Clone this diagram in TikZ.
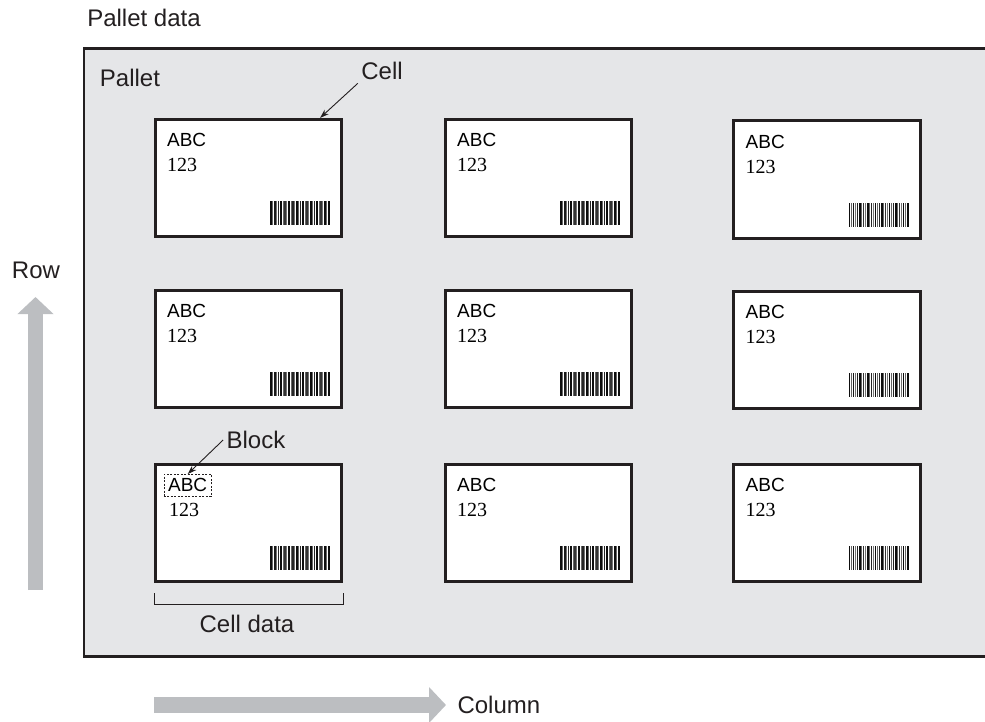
\documentclass[tikz,border=0pt]{standalone}
\usepackage{fontspec}
\setmainfont{Liberation Sans}
\newfontfamily\numfont{Liberation Serif}
\usetikzlibrary{arrows.meta,fit}
\definecolor{palletgray}{RGB}{229,230,232}
\definecolor{flowgray}{RGB}{188,190,193}
\definecolor{edge}{RGB}{35,31,32}

\begin{document}
\begin{tikzpicture}[x=1pt,y=-1pt,
	cell/.style={draw=edge, line width=2.6pt, fill=white, minimum width=186.5pt, minimum height=117.5pt, inner sep=0pt},
	abc/.style={font=\fontsize{19}{22}\selectfont, text=black, inner sep=0pt, anchor=base west},
	num/.style={font=\numfont\fontsize{20}{23}\selectfont, text=black, inner sep=0pt, anchor=base west},
	lbl/.style={font=\fontsize{24}{28}\selectfont, text=edge},
	pointer/.style={draw=edge, line width=0.9pt, -{Stealth[length=9pt,width=6pt]}},
	flow/.style={draw=flowgray, line width=15.5pt, -{Triangle[length=17pt,width=35pt]}},
	blockbox/.style={draw=edge, line width=0.8pt, dash pattern=on 2pt off 1.5pt, inner sep=4pt},
	barcode/.pic={
		\foreach \bx/\bw/\bc in {0/1.8/black!95, 2.4/1/black!60, 4/1.8/black!90, 6.4/1/black!55,
			8/1.4/black!85, 10/2.2/black!95, 12.8/1/black!60, 14.4/1.4/black!80, 16.4/1/black!55,
			18/2.2/black!95, 20.8/1/black!60, 22.4/1.4/black!85, 24.4/1/black!55, 26/1.8/black!95,
			28.4/1/black!60, 30/1.4/black!85, 32/2.2/black!95, 34.8/1/black!60, 36.4/1.4/black!80,
			38.4/1/black!55, 40/1.8/black!95, 42.4/1/black!60, 44/1.4/black!85, 46/2.2/black!95,
			48.8/1/black!60, 50.4/1.4/black!80, 52.4/1/black!55, 54/1.8/black!95, 56.4/1/black!60,
			58/2/black!95}
			{\fill[\bc] (\bx,0) rectangle ({\bx+\bw},24);}
	}]
	\useasboundingbox (0,0) rectangle (985,722);
	\clip (0,0) rectangle (985,722);

	% Pallet frame
	\draw[draw=edge, fill=palletgray, line width=2.6pt] (84,48.7) rectangle (995,656.5);

	% Labels
	\node[lbl] (palletdata) at (144,18) {Pallet data};
	\node[lbl] (palletlbl) at (130,78) {Pallet};
	\node[lbl] (celllbl) at (382,71) {Cell};
	\node[lbl] (blocklbl) at (256,440) {Block};
	\node[lbl] (rowlbl) at (36,270) {Row};
	\node[lbl, anchor=west] (collbl) at (454,705) {Column};

	% Row 1
	\node[cell] (c11) at (248.5,178) {};
	\node[abc] (a11) at ([shift={(13,29)}]c11.north west) {ABC};
	\node[num] (n11) at ([shift={(13,54)}]c11.north west) {123};
	\pic at ([shift={(-73,-37)}]c11.south east) {barcode};
	\node[cell] (c12) at (538.5,178) {};
	\node[abc] (a12) at ([shift={(13,29)}]c12.north west) {ABC};
	\node[num] (n12) at ([shift={(13,54)}]c12.north west) {123};
	\pic at ([shift={(-73,-37)}]c12.south east) {barcode};
	\node[cell] (c13) at (827,179.5) {};
	\node[abc] (a13) at ([shift={(13,29)}]c13.north west) {ABC};
	\node[num] (n13) at ([shift={(13,54)}]c13.north west) {123};
	\pic at ([shift={(-73,-37)}]c13.south east) {barcode};

	% Row 2
	\node[cell] (c21) at (248.5,349) {};
	\node[abc] (a21) at ([shift={(13,29)}]c21.north west) {ABC};
	\node[num] (n21) at ([shift={(13,54)}]c21.north west) {123};
	\pic at ([shift={(-73,-37)}]c21.south east) {barcode};
	\node[cell] (c22) at (538.5,349) {};
	\node[abc] (a22) at ([shift={(13,29)}]c22.north west) {ABC};
	\node[num] (n22) at ([shift={(13,54)}]c22.north west) {123};
	\pic at ([shift={(-73,-37)}]c22.south east) {barcode};
	\node[cell] (c23) at (827,350) {};
	\node[abc] (a23) at ([shift={(13,29)}]c23.north west) {ABC};
	\node[num] (n23) at ([shift={(13,54)}]c23.north west) {123};
	\pic at ([shift={(-73,-37)}]c23.south east) {barcode};

	% Row 3
	\node[cell] (c31) at (248.5,523) {};
	\node[abc] (a31) at ([shift={(14,29)}]c31.north west) {ABC};
	\node[num] (n31) at ([shift={(15,54)}]c31.north west) {123};
	\pic at ([shift={(-73,-37)}]c31.south east) {barcode};
	\node[cell] (c32) at (538.5,523) {};
	\node[abc] (a32) at ([shift={(13,29)}]c32.north west) {ABC};
	\node[num] (n32) at ([shift={(13,54)}]c32.north west) {123};
	\pic at ([shift={(-73,-37)}]c32.south east) {barcode};
	\node[cell] (c33) at (827,523) {};
	\node[abc] (a33) at ([shift={(13,29)}]c33.north west) {ABC};
	\node[num] (n33) at ([shift={(13,54)}]c33.north west) {123};
	\pic at ([shift={(-73,-37)}]c33.south east) {barcode};

	% Block and cell callouts
	\node[blockbox, fit=(a31)] (blk) {};
	\coordinate (celltip) at ([xshift=-23pt]c11.north east);
	\draw[pointer] (celllbl.south west) -- (celltip);
	\draw[pointer] (blocklbl.west) -- (blk.north);

	% Cell data bracket
	\draw[draw=edge, line width=0.8pt] ([yshift=-10pt]c31.south west) -- ([yshift=-21pt]c31.south west)
		-- ([yshift=-21pt]c31.south east) -- ([yshift=-10pt]c31.south east);
	\node[lbl] (celldata) at (247,624) {Cell data};

	% Row / column arrows
	\coordinate (rowtail) at (35.5,590);
	\coordinate (rowhead) at (35.5,297);
	\draw[flow] (rowtail) -- (rowhead);
	\coordinate (coltail) at (154,705);
	\coordinate (colhead) at (446,705);
	\draw[flow] (coltail) -- (colhead);
\end{tikzpicture}
\end{document}
